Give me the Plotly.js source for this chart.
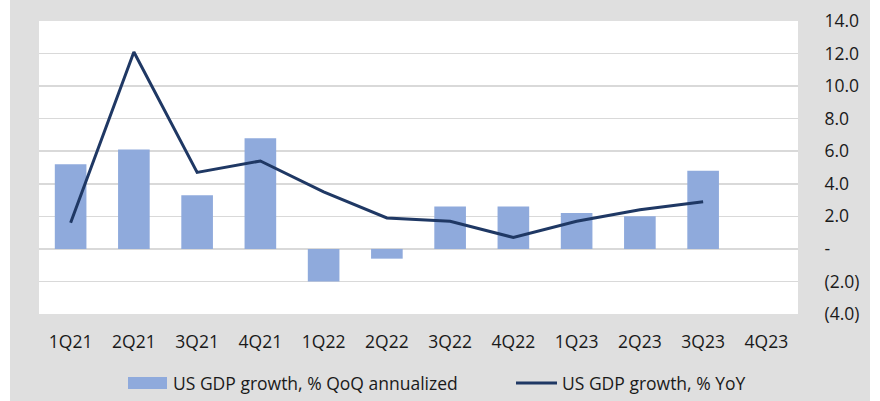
<!DOCTYPE html>
<html>
<head>
<meta charset="utf-8">
<script src="https://cdn.plot.ly/plotly-3.0.1.min.js"></script>
<style>
  html, body { margin: 0; padding: 0; background: #ffffff; }
  #chart { position: absolute; left: 10px; top: 0; width: 860px; height: 401px; }
</style>
</head>
<body>
<div id="chart"></div>
<script>
const quarters = ["1Q21","2Q21","3Q21","4Q21","1Q22","2Q22","3Q22","4Q22","1Q23","2Q23","3Q23","4Q23"];
const qoqAnnualized = [5.2, 6.1, 3.3, 6.8, -2.0, -0.6, 2.6, 2.6, 2.2, 2.0, 4.8, null];
const yoy = [1.6, 12.1, 4.7, 5.4, 3.5, 1.9, 1.7, 0.7, 1.7, 2.4, 2.9, null];
const yTickVals = [14, 12, 10, 8, 6, 4, 2, 0, -2, -4];
const yTickText = ["14.0","12.0","10.0","8.0","6.0","4.0","2.0","-","(2.0)","(4.0)"];
const seriesNames = ["US GDP growth, % QoQ annualized", "US GDP growth, % YoY"];

const barColor = "#8faadc";
const lineColor = "#1f3864";
const font = { family: "Open Sans, sans-serif", size: 17.5, color: "#1a1a1a" };

// plot area in page pixels: x 39..798, y 21..314
const PX0 = 39, PX1 = 798, PY0 = 21, PY1 = 314;
const px = v => (v - PX0) / (PX1 - PX0);
const py = v => (PY1 - v) / (PY1 - PY0);

const data = [
  {
    type: "bar", x: quarters, y: qoqAnnualized, name: seriesNames[0],
    marker: { color: barColor }, showlegend: false
  },
  {
    type: "scatter", mode: "lines", x: quarters, y: yoy, name: seriesNames[1],
    line: { color: lineColor, width: 3 }, connectgaps: false, showlegend: false
  }
];

const legendY = 383;
const layout = {
  width: 860, height: 401,
  margin: { l: 29, r: 72, t: 21, b: 87 },
  paper_bgcolor: "#dfdfdf",
  plot_bgcolor: "#ffffff",
  font: font,
  bargap: 0.5,
  showlegend: false,
  xaxis: {
    type: "category", categoryarray: quarters,
    showgrid: false, zeroline: false, showline: false,
    ticks: "outside", ticklen: 12, tickcolor: "rgba(0,0,0,0)",
    tickfont: font, fixedrange: true
  },
  yaxis: {
    side: "right", range: [-4, 14],
    tickvals: yTickVals, ticktext: yTickText,
    showgrid: true, gridcolor: "#d9d9d9", gridwidth: 1.5,
    zeroline: false, showline: false,
    ticks: "outside", ticklen: 22, tickcolor: "rgba(0,0,0,0)",
    tickfont: font, fixedrange: true
  },
  shapes: [
    { type: "rect", xref: "paper", yref: "paper",
      x0: px(128), x1: px(167), y0: py(legendY - 6), y1: py(legendY + 6),
      fillcolor: barColor, line: { width: 0 } },
    { type: "line", xref: "paper", yref: "paper",
      x0: px(516), x1: px(557), y0: py(legendY), y1: py(legendY),
      line: { color: lineColor, width: 3 } }
  ],
  annotations: [
    { xref: "paper", yref: "paper", x: px(171), y: py(legendY), xanchor: "left", yanchor: "middle",
      text: seriesNames[0], showarrow: false, font: font },
    { xref: "paper", yref: "paper", x: px(560), y: py(legendY), xanchor: "left", yanchor: "middle",
      text: seriesNames[1], showarrow: false, font: font }
  ]
};

Plotly.newPlot("chart", data, layout, { displayModeBar: false, staticPlot: true });
</script>
</body>
</html>
